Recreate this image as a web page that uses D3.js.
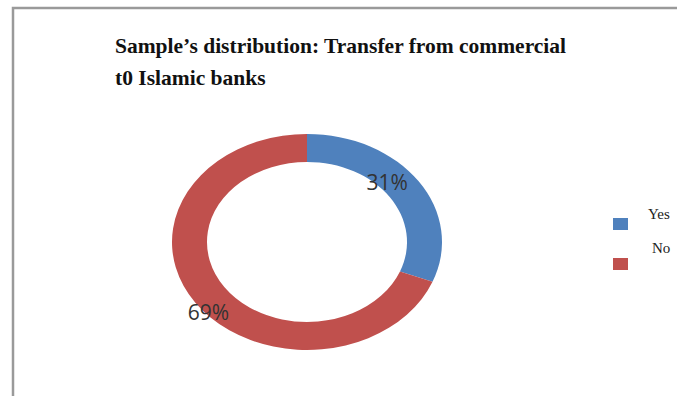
<!DOCTYPE html>
<html lang="en">
<head>
    <meta charset="UTF-8">
    <title>Sample's distribution: Transfer from commercial t0 Islamic banks</title>
    <script src="https://d3js.org/d3.v7.min.js"></script>
    <style>
        body { margin: 0; background: #fff; }
        svg { display: block; }
    </style>
</head>
<body>
<svg width="677" height="396"></svg>
<script>
    // data
    const categories = ["Yes", "No"];
    const values = [31, 69];
    const colors = ["#4F81BD", "#C0504D"];
    const titleLines = ["Sample\u2019s distribution: Transfer from commercial", "t0 Islamic banks"];

    const svg = d3.select("svg");

    // chart frame (runs off the right and bottom edges)
    svg.append("path")
        .attr("d", "M13,400 L13,8 L680,8")
        .attr("fill", "none")
        .attr("stroke", "#9a9a9a")
        .attr("stroke-width", 2.5);

    // title
    svg.append("g").selectAll("text")
        .data(titleLines)
        .enter().append("text")
        .attr("x", 115)
        .attr("y", (d, i) => 53 + i * 32)
        .attr("font-family", "Liberation Serif, serif")
        .attr("font-weight", "bold")
        .attr("font-size", 21.5)
        .attr("fill", "#111")
        .text(d => d);

    // doughnut (stretched horizontally)
    const cx = 307, cy = 242, outerR = 135, innerR = 100, sy = 0.8;
    const pie = d3.pie().sort(null).value(d => d.value);
    const arcs = pie(categories.map((c, i) => ({ name: c, value: values[i], color: colors[i] })));
    const arc = d3.arc().innerRadius(innerR).outerRadius(outerR);

    const ring = svg.append("g").attr("transform", `translate(${cx},${cy}) scale(1,${sy})`);
    ring.selectAll("path")
        .data(arcs)
        .enter().append("path")
        .attr("d", arc)
        .attr("fill", d => d.data.color);

    // percentage labels: [fraction along slice, radius]
    const labelPos = { Yes: [0.42, 110], No: [0.47, 132] };
    const angleOf = d => d.startAngle + (d.endAngle - d.startAngle) * labelPos[d.data.name][0];
    svg.append("g").selectAll("text")
        .data(arcs)
        .enter().append("text")
        .attr("x", d => cx + Math.sin(angleOf(d)) * labelPos[d.data.name][1])
        .attr("y", d => cy - Math.cos(angleOf(d)) * labelPos[d.data.name][1] * sy + 8)
        .attr("text-anchor", "middle")
        .attr("font-family", "Open Sans, sans-serif")
        .attr("font-size", 21)
        .attr("fill", "#333")
        .text(d => d.data.value + "%");

    // legend
    const legend = svg.append("g").selectAll("g")
        .data(categories)
        .enter().append("g")
        .attr("transform", (d, i) => `translate(613,${218 + i * 40})`);
    legend.append("rect")
        .attr("width", 15)
        .attr("height", 12)
        .attr("fill", (d, i) => colors[i]);
    legend.append("text")
        .attr("x", (d, i) => i === 0 ? 35 : 39)
        .attr("y", (d, i) => i === 0 ? 1 : -5)
        .attr("font-family", "Liberation Serif, serif")
        .attr("font-size", 15)
        .attr("fill", "#222")
        .text(d => d);
</script>
</body>
</html>
